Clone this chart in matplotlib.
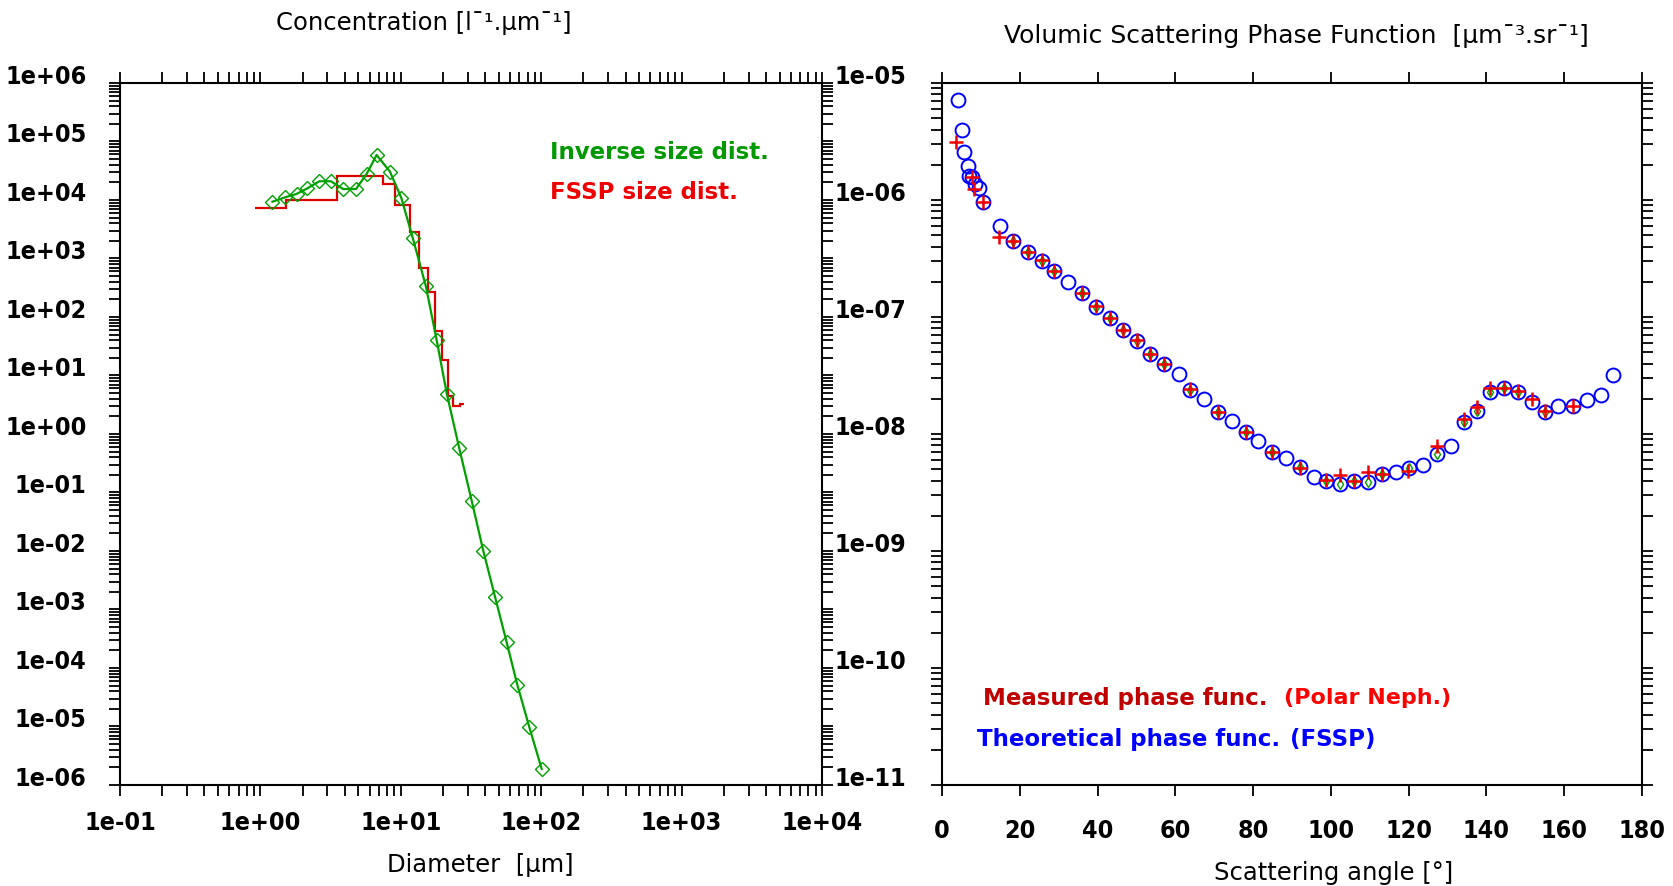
import numpy as np
import matplotlib
matplotlib.use("Agg")
import matplotlib.pyplot as plt
from matplotlib.ticker import FixedLocator, LogLocator, NullFormatter

# ---- left panel : size distributions ----
fssp_edges = [0.915, 1.52, 3.51, 7.46, 9.1, 11.6, 13.5, 15.6, 17.5, 19.7, 21.7, 23.5, 26.4, 28.2]
fssp_conc = [7.3e3, 1.0e4, 2.57e4, 1.88e4, 8.2e3, 2.84e3, 689, 267, 57.7, 18.4, 4.47, 3.01, 3.26]

inv_diam = [1.22, 1.50, 1.81, 2.16, 2.63, 3.18, 3.89, 4.80, 5.71, 6.73, 8.38, 10.1,
            12.2, 15.1, 18.0, 21.3, 26.1, 32.0, 38.7, 46.9, 56.8, 67.6, 82.2, 100.9]
inv_conc = [9.35e3, 1.11e4, 1.27e4, 1.58e4, 2.09e4, 2.09e4, 1.54e4, 1.54e4, 2.78e4, 5.88e4,
            3.05e4, 1.08e4, 2.21e3, 335, 40.9, 4.83, 0.570, 0.0724, 0.0101, 1.66e-3,
            2.75e-4, 5.19e-5, 9.9e-6, 1.88e-6]

left_yticks = [10.0 ** k for k in range(-6, 7)]
left_ylabels = ['1e-06', '1e-05', '1e-04', '1e-03', '1e-02', '1e-01', '1e+00',
                '1e+01', '1e+02', '1e+03', '1e+04', '1e+05', '1e+06']
left_xticks = [0.1, 1, 10, 100, 1000, 10000]
left_xlabels = ['1e-01', '1e+00', '1e+01', '1e+02', '1e+03', '1e+04']

# ---- right panel : phase functions ----
theo_angle = [4.0, 5.1, 5.7, 6.7, 7.0, 7.6, 8.5, 9.6, 10.6, 14.9, 18.3, 22.0, 25.6, 28.8,
              32.5, 36.1, 39.6, 43.2, 46.4, 50.1, 53.5, 57.1, 60.8, 63.8, 67.4, 71.0,
              74.6, 78.2, 81.3, 84.9, 88.5, 92.1, 95.7, 98.7, 102.3, 105.9, 109.6, 113.2,
              116.7, 120.2, 123.6, 127.2, 130.8, 134.2, 137.5, 140.9, 144.6, 148.2, 151.6,
              155.0, 158.5, 162.2, 165.8, 169.4, 172.5]
theo_val = [7.16e-6, 3.99e-6, 2.56e-6, 1.96e-6, 1.61e-6, 1.56e-6, 1.37e-6, 1.26e-6, 9.55e-7,
            6.03e-7, 4.48e-7, 3.57e-7, 3.03e-7, 2.49e-7, 1.98e-7, 1.60e-7, 1.21e-7, 9.75e-8,
            7.74e-8, 6.27e-8, 4.83e-8, 3.94e-8, 3.24e-8, 2.39e-8, 2.01e-8, 1.54e-8, 1.30e-8,
            1.04e-8, 8.77e-9, 7.08e-9, 6.27e-9, 5.19e-9, 4.31e-9, 3.99e-9, 3.74e-9, 3.99e-9,
            3.91e-9, 4.55e-9, 4.71e-9, 5.09e-9, 5.47e-9, 6.75e-9, 7.85e-9, 1.26e-8, 1.58e-8,
            2.30e-8, 2.46e-8, 2.27e-8, 1.87e-8, 1.53e-8, 1.73e-8, 1.73e-8, 1.95e-8, 2.17e-8,
            3.21e-8]

meas_angle = [3.6, 7.6, 8.1, 10.6, 14.7, 18.3, 22.0, 25.6, 28.8, 36.1, 39.6, 43.2, 46.4,
              50.1, 53.5, 57.1, 63.8, 71.0, 78.2, 84.9, 92.1, 98.7, 102.3, 105.9, 109.6,
              113.2, 119.9, 127.2, 134.2, 137.5, 140.9, 144.6, 148.2, 151.6, 155.0, 162.2]
meas_val = [3.11e-6, 1.57e-6, 1.24e-6, 9.55e-7, 4.85e-7, 4.48e-7, 3.61e-7, 3.07e-7, 2.49e-7,
            1.60e-7, 1.23e-7, 9.75e-8, 7.74e-8, 6.35e-8, 4.83e-8, 3.94e-8, 2.41e-8, 1.54e-8,
            1.04e-8, 7.06e-9, 5.09e-9, 4.05e-9, 4.49e-9, 3.99e-9, 4.76e-9, 4.55e-9, 4.83e-9,
            7.94e-9, 1.34e-8, 1.69e-8, 2.46e-8, 2.46e-8, 2.34e-8, 1.99e-8, 1.56e-8, 1.73e-8]

inv_pf_angle = [18.3, 22.0, 25.6, 28.8, 36.1, 39.6, 43.2, 46.4, 50.1, 53.5, 57.1, 63.8,
                71.0, 78.2, 84.9, 92.1, 98.7, 102.3, 105.9, 109.6, 113.2, 120.2, 127.2,
                134.2, 137.5, 140.9, 144.6, 148.2, 155.0]
inv_pf_val = [4.48e-7, 3.57e-7, 3.03e-7, 2.49e-7, 1.60e-7, 1.21e-7, 9.75e-8, 7.74e-8, 6.27e-8,
              4.83e-8, 3.94e-8, 2.39e-8, 1.54e-8, 1.04e-8, 7.08e-9, 5.19e-9, 3.99e-9, 3.74e-9,
              3.99e-9, 3.91e-9, 4.55e-9, 5.09e-9, 6.75e-9, 1.26e-8, 1.58e-8, 2.30e-8, 2.46e-8,
              2.27e-8, 1.53e-8]

right_yticks = [10.0 ** k for k in range(-11, -4)]
right_ylabels = ['1e-11', '1e-10', '1e-09', '1e-08', '1e-07', '1e-06', '1e-05']
right_xticks = list(range(0, 181, 20))

TICKFONT = ['DejaVu Sans']
LEGFONT = ['DejaVu Sans']

fig = plt.figure(figsize=(16.73, 8.87), dpi=100)
fig.patch.set_facecolor('white')

ax1 = fig.add_axes([0.0717, 0.1139, 0.4196, 0.7914])
ax2 = fig.add_axes([0.5631, 0.1139, 0.4184, 0.7914])

##############################################################################
# left panel
ax1.set_xscale('log')
ax1.set_yscale('log')
ax1.stairs(fssp_conc, fssp_edges, baseline=None, color='#dd0000', linewidth=1.6, zorder=2)
ax1.plot(inv_diam, inv_conc, color='#00a000', linewidth=1.6, marker='D', markersize=7,
         markerfacecolor='none', markeredgecolor='#00a000', markeredgewidth=1.0, zorder=3)
ax1.set_xlim(0.1, 1e4)
ax1.set_ylim(1e-6, 1e6)
ax1.yaxis.set_major_locator(FixedLocator(left_yticks))
ax1.yaxis.set_minor_locator(LogLocator(base=10, subs=np.arange(2, 10), numticks=100))
ax1.yaxis.set_minor_formatter(NullFormatter())
ax1.set_yticklabels(left_ylabels)
ax1.xaxis.set_major_locator(FixedLocator(left_xticks))
ax1.xaxis.set_minor_locator(LogLocator(base=10, subs=np.arange(2, 10), numticks=100))
ax1.xaxis.set_minor_formatter(NullFormatter())
ax1.set_xticklabels(left_xlabels)
ax1.tick_params(axis='both', which='both', direction='out', length=8, width=1.3,
                top=True, right=True)
ax1.tick_params(axis='y', pad=16)
ax1.tick_params(axis='x', pad=10)

ax1.text(0.613, 0.903, 'Inverse size dist.', transform=ax1.transAxes, color='#009900',
         fontsize=16.5, fontweight='bold', family=LEGFONT, va='center', ha='left')
ax1.text(0.613, 0.845, 'FSSP size dist.', transform=ax1.transAxes, color='#ee0000',
         fontsize=16.5, fontweight='bold', family=LEGFONT, va='center', ha='left')

##############################################################################
# right panel
ax2.set_yscale('log')
ax2.plot(theo_angle, theo_val, linestyle='none', marker='o', markersize=10,
         markerfacecolor='none', markeredgecolor='#0000ff', markeredgewidth=1.4, zorder=2)
ax2.plot(inv_pf_angle, inv_pf_val, linestyle='none', marker='d', markersize=5,
         markerfacecolor='none', markeredgecolor='#00a000', markeredgewidth=1.0, zorder=3)
ax2.plot(meas_angle, meas_val, linestyle='none', marker='+', markersize=10.5,
         markeredgecolor='#ee0000', markeredgewidth=1.8, zorder=4)
ax2.set_xlim(0, 180)
ax2.set_ylim(1e-11, 1e-5)
ax2.xaxis.set_major_locator(FixedLocator(right_xticks))
ax2.yaxis.set_major_locator(FixedLocator(right_yticks))
ax2.yaxis.set_minor_locator(LogLocator(base=10, subs=np.arange(2, 10), numticks=100))
ax2.yaxis.set_minor_formatter(NullFormatter())
ax2.set_yticklabels(right_ylabels)
ax2.tick_params(axis='both', which='both', direction='out', length=8, width=1.3,
                top=True, right=True)
ax2.tick_params(axis='y', pad=18)
ax2.tick_params(axis='x', pad=16)

ax2.text(0.058, 0.125, 'Measured phase func.', transform=ax2.transAxes, color='#c00000',
         fontsize=16.5, fontweight='bold', family=LEGFONT, va='center', ha='left')
ax2.text(0.489, 0.125, '(Polar Neph.)', transform=ax2.transAxes, color='#ff0000',
         fontsize=16, fontweight='bold', family=LEGFONT, va='center', ha='left')
ax2.text(0.050, 0.066, 'Theoretical phase func.', transform=ax2.transAxes, color='#0000ff',
         fontsize=16.5, fontweight='bold', family=LEGFONT, va='center', ha='left')
ax2.text(0.497, 0.066, '(FSSP)', transform=ax2.transAxes, color='#0000ff',
         fontsize=16.5, fontweight='bold', family=LEGFONT, va='center', ha='left')

for ax in (ax1, ax2):
    for sp in ax.spines.values():
        sp.set_linewidth(1.5)
    for lab in ax.get_yticklabels() + ax.get_xticklabels():
        lab.set_family(TICKFONT)
        lab.set_fontsize(18)
        lab.set_fontweight('bold')
        lab.set_fontstretch('condensed')
    for lab in ax.get_yticklabels():
        lab.set_verticalalignment('baseline')

fig.text(0.2534, 0.9741, 'Concentration [l\u00af\u00b9.\u00b5m\u00af\u00b9]', ha='center', va='center',
         fontsize=17.5, family=TICKFONT, fontweight='medium')
fig.text(0.7747, 0.9595, 'Volumic Scattering Phase Function  [\u00b5m\u00af\u00b3.sr\u00af\u00b9]',
         ha='center', va='center', fontsize=18, family=TICKFONT, fontweight='medium')
fig.text(0.2869, 0.0248, 'Diameter  [\u00b5m]', ha='center', va='center', fontsize=17.5,
         family=TICKFONT, fontweight='medium')
fig.text(0.7974, 0.0158, 'Scattering angle [\u00b0]', ha='center', va='center', fontsize=17.5,
         family=TICKFONT, fontweight='medium')

fig.savefig('out.png', dpi=100, facecolor='white')
